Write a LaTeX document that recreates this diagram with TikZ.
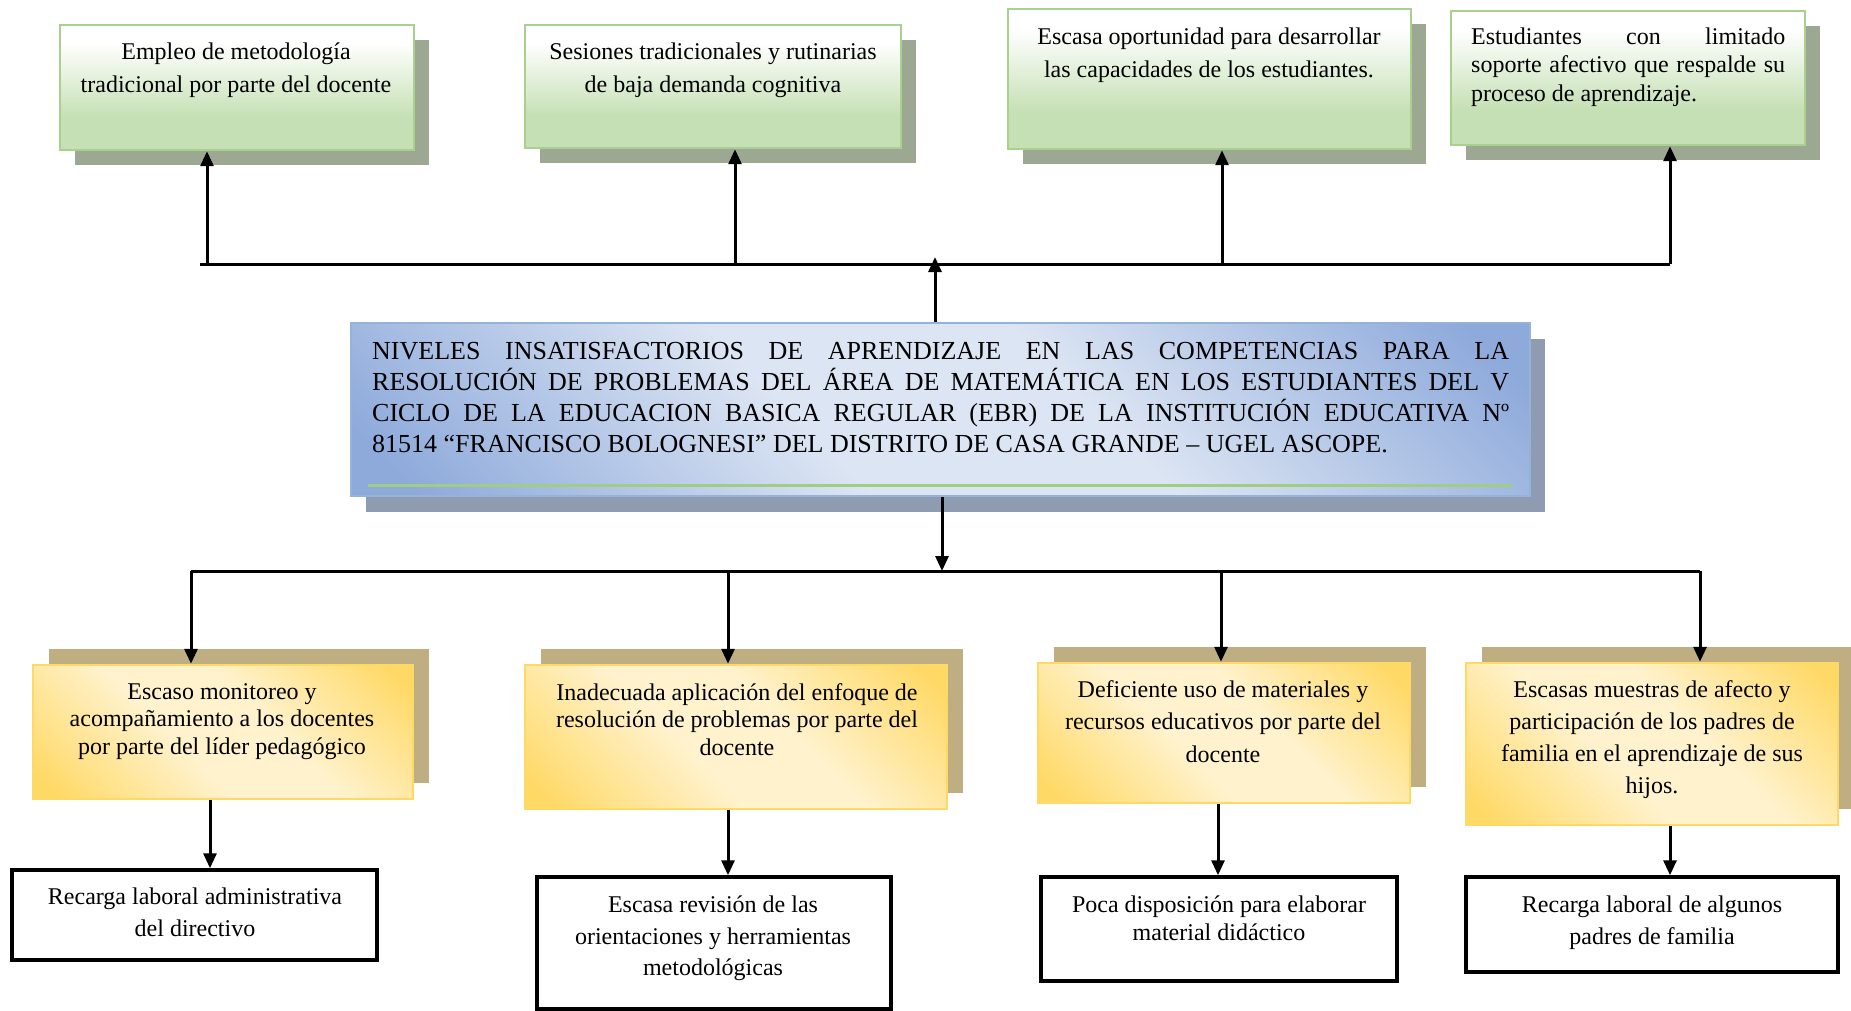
\documentclass[tikz,border=0pt]{standalone}
\usepackage{fontspec}
\setmainfont{Liberation Serif}
\usetikzlibrary{arrows.meta,fit,shadows}
\definecolor{gbot}{HTML}{C5E0B4}
\definecolor{gborder}{HTML}{A9D08E}
\definecolor{gshadow}{HTML}{9DA892}
\definecolor{bdark}{HTML}{8EAADB}
\definecolor{blight}{HTML}{DCE5F3}
\definecolor{cborder}{HTML}{95B3D7}
\definecolor{cshadow}{HTML}{8F9BB0}
\definecolor{gline}{HTML}{9FCD82}
\definecolor{ygold}{HTML}{FFD966}
\definecolor{ypale}{HTML}{FFF2CC}
\definecolor{yborder}{HTML}{FFD966}
\definecolor{yshadow}{HTML}{BFAE82}
\pgfdeclareverticalshading{greenshade}{100bp}{color(0bp)=(gbot); color(38bp)=(gbot); color(68bp)=(white); color(100bp)=(white)}
\pgfdeclarehorizontalshading{goldshade}{100bp}{color(0bp)=(ygold); color(18bp)=(ygold); color(42bp)=(ypale); color(58bp)=(ypale); color(82bp)=(ygold); color(100bp)=(ygold)}
\pgfdeclarehorizontalshading{blueshade}{100bp}{color(0bp)=(bdark); color(18bp)=(bdark); color(42bp)=(blight); color(58bp)=(blight); color(82bp)=(bdark); color(100bp)=(bdark)}
\begin{document}
\begin{tikzpicture}[x=1pt,y=-1pt,
  topbox/.style={draw=gborder, line width=2.5pt, shade, shading=greenshade, inner sep=0pt,
    drop shadow={shadow xshift=15pt, shadow yshift=-15pt, fill=gshadow, opacity=1}},
  cbox/.style={draw=cborder, line width=2.5pt, shade, shading=blueshade, shading angle=45, inner sep=0pt,
    drop shadow={shadow xshift=15pt, shadow yshift=-16pt, fill=cshadow, opacity=1}},
  ybox/.style={draw=yborder, line width=2.5pt, shade, shading=goldshade, shading angle=45, inner sep=0pt,
    drop shadow={shadow xshift=16pt, shadow yshift=16pt, fill=yshadow, opacity=1}},
  bbox/.style={draw=black, line width=3.5pt, fill=white, inner sep=0pt},
  txt/.style={inner sep=0pt, anchor=north, align=center},
  arr/.style={line width=3pt, -{Triangle[width=13pt,length=15pt]}},
  bar/.style={line width=3pt}]
\useasboundingbox (0,0) rectangle (1851,1011);
\fill[white] (0,0) rectangle (1851,1011);

% top boxes
\node[topbox, fit={(60,25) (414,150)}] (T1) {};
\node[topbox, fit={(525,25) (901,148)}] (T2) {};
\node[topbox, fit={(1008,9) (1411,149)}] (T3) {};
\node[topbox, fit={(1451,11) (1805,145)}] (T4) {};
\node[txt, font=\fontsize{24}{33}\selectfont] (T1t) at (236,42.5) {Empleo de metodología\\tradicional por parte del docente};
\node[txt, font=\fontsize{24}{33}\selectfont] (T2t) at (713,42.5) {Sesiones tradicionales y rutinarias\\de baja demanda cognitiva};
\node[txt, font=\fontsize{24}{33}\selectfont] (T3t) at (1209,27.5) {Escasa oportunidad para desarrollar\\las capacidades de los estudiantes.};
\node[inner sep=0pt, anchor=north west, text width=314pt, align=justify, font=\fontsize{24}{28.5}\selectfont] (T4t) at (1471,27.5) {Estudiantes con limitado\linebreak soporte afectivo que respalde su\linebreak proceso de aprendizaje.};

% central box
\node[cbox, fit={(351,323) (1530,496)}] (C) {};
\draw[line width=3pt, gline] (368,485) -- (1513,485);
\node[inner sep=0pt, anchor=north west, text width=1137pt, align=justify, font=\fontsize{26}{30.7}\selectfont] (Ct) at (372,342.5) {NIVELES INSATISFACTORIOS DE APRENDIZAJE EN LAS COMPETENCIAS PARA LA\linebreak RESOLUCIÓN DE PROBLEMAS DEL ÁREA DE MATEMÁTICA EN LOS ESTUDIANTES DEL V\linebreak CICLO DE LA EDUCACION BASICA REGULAR (EBR) DE LA INSTITUCIÓN EDUCATIVA Nº\linebreak 81514 “FRANCISCO BOLOGNESI” DEL DISTRITO DE CASA GRANDE – UGEL ASCOPE.};

% yellow boxes
\node[ybox, fit={(33,665) (413,799)}] (Y1) {};
\node[ybox, fit={(525,665) (947,809)}] (Y2) {};
\node[ybox, fit={(1038,663) (1410,803)}] (Y3) {};
\node[ybox, fit={(1466,663) (1838,825)}] (Y4) {};
\node[txt, font=\fontsize{24}{27.7}\selectfont] (Y1t) at (222,683) {Escaso monitoreo y\\acompañamiento a los docentes\\por parte del líder pedagógico};
\node[txt, font=\fontsize{24}{27.7}\selectfont] (Y2t) at (737,683) {Inadecuada aplicación del enfoque de\\resolución de problemas por parte del\\docente};
\node[txt, font=\fontsize{24}{32.5}\selectfont] (Y3t) at (1223,680) {Deficiente uso de materiales y\\recursos educativos por parte del\\docente};
\node[txt, font=\fontsize{24}{32}\selectfont] (Y4t) at (1652,680) {Escasas muestras de afecto y\\participación de los padres de\\familia en el aprendizaje de sus\\hijos.};

% bottom boxes
\node[bbox, fit={(12,870) (377,960)}] (B1) {};
\node[bbox, fit={(537,877) (891,1009)}] (B2) {};
\node[bbox, fit={(1041,877) (1397,981)}] (B3) {};
\node[bbox, fit={(1466,877) (1838,972)}] (B4) {};
\node[txt, font=\fontsize{24}{32}\selectfont] (B1t) at (195,888) {Recarga laboral administrativa\\del directivo};
\node[txt, font=\fontsize{24}{31.5}\selectfont] (B2t) at (713,896) {Escasa revisión de las\\orientaciones y herramientas\\metodológicas};
\node[txt, font=\fontsize{24}{27.5}\selectfont] (B3t) at (1219,896) {Poca disposición para elaborar\\material didáctico};
\node[txt, font=\fontsize{24}{32}\selectfont] (B4t) at (1652,896) {Recarga laboral de algunos\\padres de familia};

% top connectors
\coordinate (tL) at (200,264);
\coordinate (a1) at (207,264);
\coordinate (a2) at (735,264);
\coordinate (a3) at (1222,264);
\coordinate (a4) at (1670,264);
\coordinate (cu) at (935,257);
\draw[bar] (tL) -- (a4);
\draw[arr] (a1) -- (a1 |- T1.south);
\draw[arr] (a2) -- (a2 |- T2.south);
\draw[arr] (a3) -- (a3 |- T3.south);
\draw[arr] (a4) -- (a4 |- T4.south);
\draw[arr] (C.north -| cu) -- (cu);

% lower connectors
\coordinate (cd) at (942,571);
\coordinate (b1) at (191,571);
\coordinate (b2) at (728,571);
\coordinate (b3) at (1221,571);
\coordinate (b4) at (1700,571);
\draw[arr] (C.south -| cd) -- (cd);
\draw[bar] (b1) -- (b4);
\draw[arr] (b1) -- (b1 |- Y1.north);
\draw[arr] (b2) -- (b2 |- Y2.north);
\draw[arr] (b3) -- (b3 |- Y3.north);
\draw[arr] (b4) -- (b4 |- Y4.north);

\coordinate (d1) at (210,0);
\coordinate (d2) at (728,0);
\coordinate (d3) at (1218,0);
\coordinate (d4) at (1670,0);
\draw[arr] (Y1.south -| d1) -- (B1.north -| d1);
\draw[arr] (Y2.south -| d2) -- (B2.north -| d2);
\draw[arr] (Y3.south -| d3) -- (B3.north -| d3);
\draw[arr] (Y4.south -| d4) -- (B4.north -| d4);
\end{tikzpicture}
\end{document}
